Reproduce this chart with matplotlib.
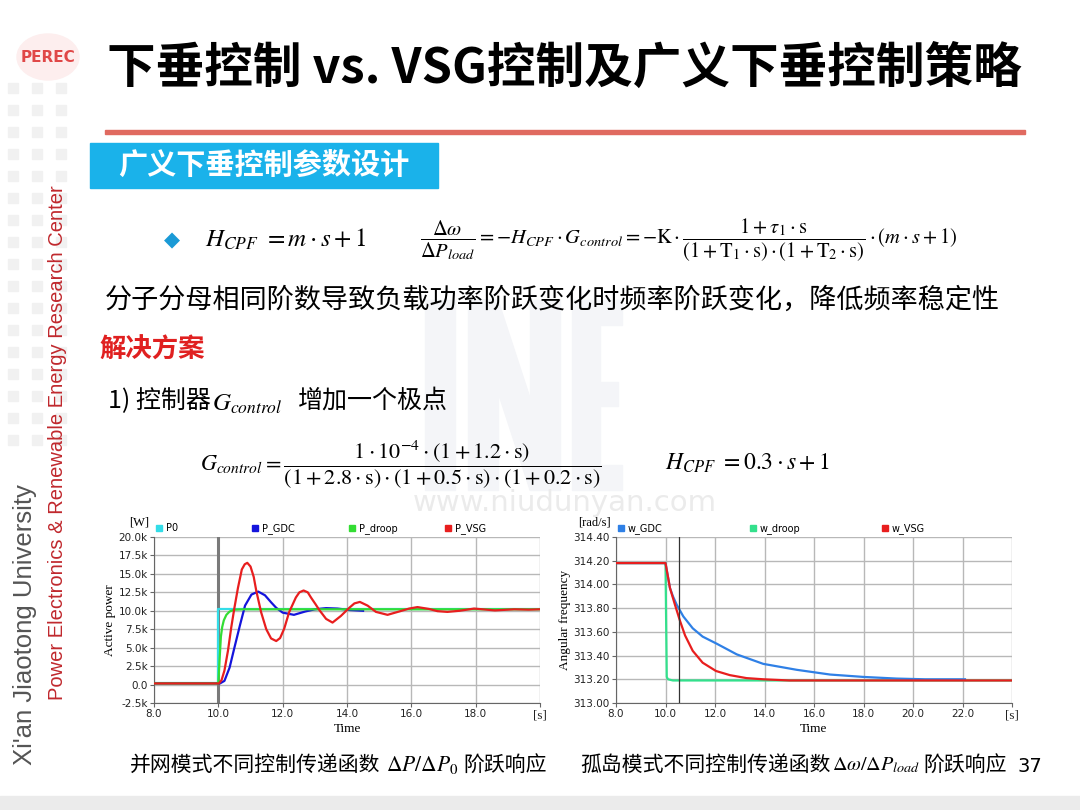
import numpy as np
import matplotlib
matplotlib.use("Agg")
import matplotlib.pyplot as plt
from matplotlib.patches import Rectangle, Polygon, Ellipse

plt.rcParams['font.family'] = ['Noto Sans CJK SC', 'DejaVu Sans']
plt.rcParams['mathtext.fontset'] = 'stix'

W, H = 1080, 810

# ---- grid-connected step response (left chart), values in kW ----
t_p0 = [8.0, 10.0, 10.0, 20.0]
p_p0 = [0.15, 0.15, 10.2, 10.2]

t_gdc = [8.0, 10.05, 10.19, 10.35, 10.5, 10.67, 10.83, 11.03, 11.24, 11.45,
         11.65, 11.8, 12.0, 12.35, 12.7, 13.0, 13.35, 13.7, 14.1, 14.5]
p_gdc = [0.15, 0.15, 0.5, 2.3, 5.0, 8.0, 10.7, 12.2, 12.6, 12.1,
         11.1, 10.4, 9.75, 9.45, 9.9, 10.2, 10.36, 10.3, 10.1, 10.0]

t_droop = [8.0, 10.0, 10.04, 10.08, 10.12, 10.17, 10.25, 10.35, 10.5, 10.8, 20.0]
p_droop = [0.15, 0.15, 3.5, 6.5, 7.8, 8.7, 9.45, 9.9, 10.15, 10.2, 10.2]

t_vsg = [8.0, 10.02, 10.1, 10.19, 10.3, 10.4, 10.5, 10.61, 10.73, 10.82, 10.9,
         11.0, 11.1, 11.18, 11.33, 11.49, 11.64, 11.8, 11.92, 12.05, 12.2,
         12.41, 12.52, 12.65, 12.78, 12.88, 13.02, 13.14, 13.35, 13.55, 13.81,
         14.07, 14.23, 14.4, 14.64, 14.9, 15.26, 15.62, 15.93, 16.19, 16.55,
         16.81, 17.12, 17.5, 17.95, 18.6, 19.2, 19.65, 20.0]
p_vsg = [0.15, 0.15, 0.6, 1.9, 4.6, 7.7, 10.4, 13.1, 15.6, 16.3, 16.5,
         16.0, 14.6, 12.7, 9.8, 7.5, 6.25, 5.9, 6.3, 7.6, 9.8,
         11.8, 12.5, 12.75, 12.5, 11.8, 10.9, 10.1, 8.9, 8.4, 9.3,
         10.4, 11.0, 11.2, 10.7, 9.85, 9.45, 9.9, 10.3, 10.5, 10.25,
         9.95, 9.85, 10.0, 10.3, 10.05, 10.2, 10.15, 10.2]

# ---- islanded step response (right chart), rad/s ----
t_wgdc = [8.0, 10.0, 10.18, 10.3, 10.45, 10.72, 11.1, 11.5, 12.07, 12.88,
          13.95, 15.3, 16.65, 17.99, 19.34, 20.5, 22.1]
w_gdc = [314.18, 314.18, 313.97, 313.90, 313.83, 313.73, 313.63, 313.56, 313.50, 313.41,
         313.33, 313.28, 313.24, 313.22, 313.206, 313.20, 313.20]

t_wdroop = [8.0, 10.0, 10.05, 10.1, 10.3, 24.0]
w_droop = [314.18, 314.18, 313.22, 313.20, 313.19, 313.19]

t_wvsg = [8.0, 10.0, 10.18, 10.38, 10.59, 10.79, 11.1, 11.5, 12.04, 12.6,
          13.27, 13.95, 15.0, 24.0]
w_vsg = [314.18, 314.18, 313.97, 313.83, 313.69, 313.57, 313.44, 313.34, 313.27, 313.235,
         313.21, 313.20, 313.19, 313.19]

left_yticks = [-2.5, 0.0, 2.5, 5.0, 7.5, 10.0, 12.5, 15.0, 17.5, 20.0]
left_ylabels = ['-2.5k', '0.0', '2.5k', '5.0k', '7.5k', '10.0k', '12.5k', '15.0k', '17.5k', '20.0k']
left_xticks = [8, 10, 12, 14, 16, 18, 20]
right_yticks = [313.0, 313.2, 313.4, 313.6, 313.8, 314.0, 314.2, 314.4]
right_xticks = [8, 10, 12, 14, 16, 18, 20, 22, 24]


def fx(x):
    return x / W


def fy(y):
    return 1 - y / H


def fig_poly(pts, color):
    # pts in slide pixels (origin top-left)
    fig.patches.append(Polygon([(fx(x), fy(y)) for x, y in pts], closed=True,
                               transform=fig.transFigure, color=color, zorder=0))


fig = plt.figure(figsize=(10.8, 8.1), dpi=100)
fig.patch.set_facecolor('white')

# ---- slide decoration ----
for cx in (13, 37, 61):
    for cy in range(88, 460, 22):
        fig.patches.append(Rectangle((fx(cx - 5), fy(cy + 5)), 10 / W, 10 / H,
                                     transform=fig.transFigure, color='#f1f1f1', zorder=0))
fig.patches.append(Rectangle((0, 0), 1, 14 / H, transform=fig.transFigure,
                             color='#ebebeb', zorder=0))
fig.patches.append(Ellipse((fx(48), fy(57)), 62 / W, 46 / H, transform=fig.transFigure,
                           color='#fdeeee', zorder=0))
fig.text(fx(48), fy(57), 'PEREC', color='#e04848', fontsize=11, fontweight='bold',
         ha='center', va='center', family='DejaVu Sans')
fig.text(fx(25), fy(625), "Xi'an Jiaotong University", rotation=90, color='#555555',
         fontsize=18.5, ha='center', va='center', family='Liberation Sans')
fig.text(fx(58), fy(443), 'Power Electronics & Renewable Energy Research Center',
         rotation=90, color='#c0282d', fontsize=14.5, ha='center', va='center',
         family='Liberation Sans')

# faint "INE" logo watermark drawn as shapes
wm = '#f4f5f8'
fig_poly([(425, 300), (455, 300), (455, 490), (425, 490)], wm)
fig_poly([(468, 300), (498, 300), (498, 490), (468, 490)], wm)
fig_poly([(468, 300), (498, 300), (560, 490), (530, 490)], wm)
fig_poly([(530, 300), (560, 300), (560, 490), (530, 490)], wm)
fig_poly([(572, 300), (622, 300), (622, 325), (600, 325), (600, 382), (618, 382),
          (618, 406), (600, 406), (600, 465), (622, 465), (622, 490), (572, 490)], wm)
fig.text(fx(565), fy(503), 'www.niudunyan.com', color='#ebebeb', fontsize=21,
         ha='center', va='center', family='DejaVu Sans', zorder=0)

# title
fig.text(fx(107), fy(68), '下垂控制 vs. VSG控制及广义下垂控制策略', fontsize=35,
         fontweight='bold', ha='left', va='center', color='black')
fig.patches.append(Rectangle((fx(105), fy(134)), 920 / W, 4 / H,
                             transform=fig.transFigure, color='#e06a60'))

# section box
fig.patches.append(Rectangle((fx(90), fy(188)), 348 / W, 45 / H,
                             transform=fig.transFigure, color='#1ab2ea'))
fig.text(fx(264), fy(165), '广义下垂控制参数设计', fontsize=21, fontweight='bold',
         color='white', ha='center', va='center')

# formulas
fig.text(fx(172), fy(240), '\u25c6', color='#1a9ad6', fontsize=15,
         ha='center', va='center', family='DejaVu Sans')
fig.text(fx(205), fy(240), r'$H_{CPF}\ = m\cdot s+1$', fontsize=18,
         ha='left', va='center')
fig.text(fx(420), fy(240),
         r'$\dfrac{\Delta\omega}{\Delta P_{load}} = -H_{CPF}\cdot G_{control} = -\mathrm{K}\cdot'
         r'\dfrac{1+\tau_1\cdot\mathrm{s}}{(1+\mathrm{T}_1\cdot\mathrm{s})\cdot(1+\mathrm{T}_2\cdot\mathrm{s})}'
         r'\cdot(m\cdot s+1)$', fontsize=14.8, ha='left', va='center')

fig.text(fx(105), fy(300), '分子分母相同阶数导致负载功率阶跃变化时频率阶跃变化，降低频率稳定性',
         fontsize=19.5, ha='left', va='center')
fig.text(fx(100), fy(350), '解决方案', fontsize=19, fontweight='bold', color='#e02020',
         ha='left', va='center')
fig.text(fx(108), fy(401), '1) 控制器', fontsize=18, ha='left', va='center')
fig.text(fx(212), fy(404), r'$G_{control}$', fontsize=18, ha='left', va='center')
fig.text(fx(298), fy(401), '增加一个极点', fontsize=18, ha='left', va='center')

fig.text(fx(200), fy(465),
         r'$G_{control} = \dfrac{1\cdot 10^{-4}\cdot(1+1.2\cdot\mathrm{s})}'
         r'{(1+2.8\cdot\mathrm{s})\cdot(1+0.5\cdot\mathrm{s})\cdot(1+0.2\cdot\mathrm{s})}$',
         fontsize=16, ha='left', va='center')
fig.text(fx(665), fy(463), r'$H_{CPF}\ = 0.3\cdot s+1$', fontsize=17,
         ha='left', va='center')

# captions
fig.text(fx(130), fy(765), '并网模式不同控制传递函数', fontsize=15, ha='left', va='center')
fig.text(fx(386), fy(765), r'$\Delta P/\Delta P_0$', fontsize=15.5, ha='left', va='center')
fig.text(fx(463), fy(765), '阶跃响应', fontsize=15, ha='left', va='center')
fig.text(fx(580), fy(765), '孤岛模式不同控制传递函数', fontsize=15, ha='left', va='center')
fig.text(fx(832), fy(765), r'$\Delta\omega/\Delta P_{load}$', fontsize=14.5, ha='left', va='center')
fig.text(fx(923), fy(765), '阶跃响应', fontsize=15, ha='left', va='center')
fig.text(fx(1030), fy(767), '37', fontsize=14, ha='center', va='center', family='DejaVu Sans')


def style_axes(ax, xticks, xlabels, yticks, ylabels, ylabel, unit):
    ax.set_xticks(xticks)
    ax.set_xticklabels(xlabels)
    ax.set_yticks(yticks)
    ax.set_yticklabels(ylabels)
    for lab in ax.get_xticklabels() + ax.get_yticklabels():
        lab.set_family('DejaVu Sans')
        lab.set_fontsize(7.5)
        lab.set_color('#222222')
    last = ax.get_xticklabels()[-1]
    last.set_family('Liberation Serif')
    last.set_fontsize(9.5)
    ax.grid(True, color='#b8b8b8', lw=1.0)
    ax.set_axisbelow(True)
    for s in ('top', 'right'):
        ax.spines[s].set_visible(False)
    for s in ('left', 'bottom'):
        ax.spines[s].set_color('#666666')
    ax.tick_params(length=3, width=0.8, color='#666666', pad=1.5)
    ax.set_ylabel(ylabel, family='Liberation Serif', fontsize=9.5, labelpad=2)
    ax.set_xlabel('Time', family='Liberation Serif', fontsize=9.5, labelpad=1)
    ax.text(-0.012, 1.09, unit, transform=ax.transAxes, ha='right', va='center',
            family='Liberation Serif', fontsize=9, zorder=10)


def legend_row(ax, items, step):
    for i, (name, col) in enumerate(items):
        x0 = 0.012 + i * step
        ax.plot([x0], [1.052], marker='s', ms=4, color=col, transform=ax.transAxes,
                clip_on=False, ls='none')
        ax.text(x0 + 0.018, 1.052, name, transform=ax.transAxes, ha='left', va='center',
                fontsize=7, family='DejaVu Sans')


# ---- left chart ----
ax1 = fig.add_axes([154 / W, 1 - 703 / H, 386 / W, 166 / H])
ax1.plot(t_p0, p_p0, color='#33dde8', lw=1.6, zorder=2)
ax1.plot(t_gdc, p_gdc, color='#1414dc', lw=1.6, zorder=3)
ax1.plot(t_droop, p_droop, color='#33dd33', lw=1.6, zorder=4)
ax1.plot(t_vsg, p_vsg, color='#e81e1e', lw=1.6, zorder=5)
ax1.axvline(10.0, color='#7a7a7a', lw=2.2, zorder=1)
ax1.set_xlim(8, 20)
ax1.set_ylim(-2.5, 20)
style_axes(ax1, left_xticks, ['8.0', '10.0', '12.0', '14.0', '16.0', '18.0', '[s]'],
           left_yticks, left_ylabels, 'Active power', '[W]')
legend_row(ax1, [('P0', '#33dde8'), ('P_GDC', '#1414dc'),
                 ('P_droop', '#33dd33'), ('P_VSG', '#e81e1e')], 0.25)

# ---- right chart ----
ax2 = fig.add_axes([616 / W, 1 - 703 / H, 396 / W, 166 / H])
ax2.plot(t_wgdc, w_gdc, color='#2f80e6', lw=1.6, zorder=3)
ax2.plot(t_wdroop, w_droop, color='#33e08c', lw=1.6, zorder=2)
ax2.plot(t_wvsg, w_vsg, color='#e81e1e', lw=1.6, zorder=4)
ax2.axvline(10.56, color='#333333', lw=0.9, zorder=5)
ax2.set_xlim(8, 24)
ax2.set_ylim(313.0, 314.4)
style_axes(ax2, right_xticks,
           ['8.0', '10.0', '12.0', '14.0', '16.0', '18.0', '20.0', '22.0', '[s]'],
           right_yticks, ['%.2f' % v for v in right_yticks], 'Angular frequency', '[rad/s]')
legend_row(ax2, [('w_GDC', '#2f80e6'), ('w_droop', '#33e08c'), ('w_VSG', '#e81e1e')], 1 / 3)

fig.savefig('out.png', dpi=100)
